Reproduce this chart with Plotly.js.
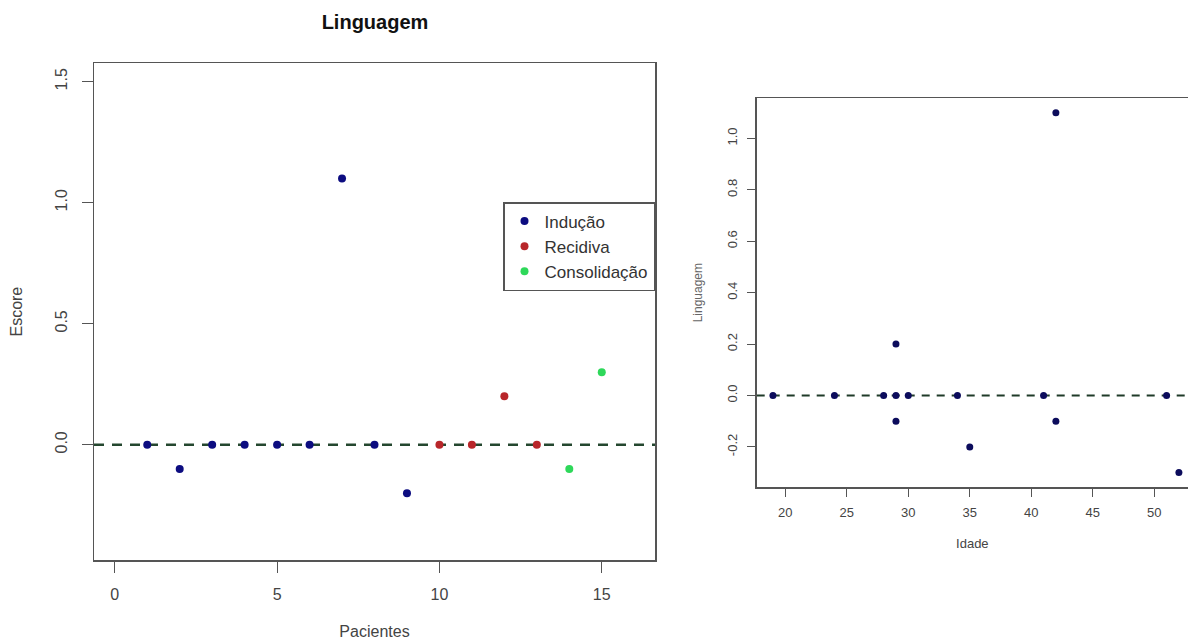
<!DOCTYPE html>
<html>
<head>
<meta charset="utf-8">
<script src="https://cdn.plot.ly/plotly-3.0.1.min.js"></script>
<style>html,body{margin:0;padding:0;background:#fff;}#chart{width:1188px;height:644px;}</style>
</head>
<body>
<div id="chart"></div>
<script>
// ---- Left panel: Escore por paciente ----
const pacientesInducao = [1, 2, 3, 4, 5, 6, 7, 8, 9];
const escoreInducao = [0, -0.1, 0, 0, 0, 0, 1.1, 0, -0.2];
const pacientesRecidiva = [10, 11, 12, 13];
const escoreRecidiva = [0, 0, 0.2, 0];
const pacientesConsolidacao = [14, 15];
const escoreConsolidacao = [-0.1, 0.3];
const xTicksLeft = [0, 5, 10, 15];
const yTicksLeft = [0, 0.5, 1.0, 1.5];
const yTickTextLeft = ["0.0", "0.5", "1.0", "1.5"];

// ---- Right panel: Linguagem x Idade ----
const idade = [19, 24, 28, 29, 29, 29, 30, 34, 35, 41, 42, 42, 51, 52];
const linguagem = [0, 0, 0, 0.2, 0, -0.1, 0, 0, -0.2, 0, 1.1, -0.1, 0, -0.3];
const xTicksRight = [20, 25, 30, 35, 40, 45, 50];
const yTicksRight = [-0.2, 0, 0.2, 0.4, 0.6, 0.8, 1.0];
const yTickTextRight = ["-0.2", "0.0", "0.2", "0.4", "0.6", "0.8", "1.0"];

const FONT = "Liberation Sans, Arial, sans-serif";
const AX = "#555555";
const TXT = "#444444";

const traces = [
  {x: pacientesInducao, y: escoreInducao, mode: "markers", type: "scatter", name: "Indução",
   marker: {color: "#0c0c80", size: 8}, xaxis: "x", yaxis: "y", cliponaxis: false},
  {x: pacientesRecidiva, y: escoreRecidiva, mode: "markers", type: "scatter", name: "Recidiva",
   marker: {color: "#b8262a", size: 8}, xaxis: "x", yaxis: "y", cliponaxis: false},
  {x: pacientesConsolidacao, y: escoreConsolidacao, mode: "markers", type: "scatter", name: "Consolidação",
   marker: {color: "#2ed85a", size: 8}, xaxis: "x", yaxis: "y", cliponaxis: false},
  {x: idade, y: linguagem, mode: "markers", type: "scatter", name: "Linguagem",
   marker: {color: "#0c0c5c", size: 7}, xaxis: "x2", yaxis: "y2", showlegend: false, cliponaxis: false}
];

const layout = {
  width: 1188, height: 644,
  margin: {l: 0, r: 0, t: 0, b: 0},
  paper_bgcolor: "#ffffff", plot_bgcolor: "#ffffff",
  font: {family: FONT, color: TXT, size: 16},
  title: {text: "<b>Linguagem</b>", x: 375 / 1188, xanchor: "center", y: 1 - 22 / 644, yanchor: "middle",
          font: {family: FONT, size: 20, color: "#111111"}},
  showlegend: true,
  legend: {x: 503 / 1188, y: 1 - 202 / 644, xanchor: "left", yanchor: "top",
           bgcolor: "#ffffff", bordercolor: AX, borderwidth: 1.5,
           font: {family: FONT, size: 17, color: "#333333"}, tracegroupgap: 0},
  xaxis: {domain: [94 / 1188, 655 / 1188], range: [-0.64, 16.64], anchor: "y",
          tickvals: xTicksLeft, ticks: "outside", ticklen: 11, tickwidth: 1.2, tickcolor: AX,
          showline: true, mirror: true, linecolor: AX, linewidth: 1.5,
          showgrid: false, zeroline: false, ticklabelstandoff: 8,
          tickfont: {family: FONT, size: 16, color: TXT},
          title: {text: "Pacientes", standoff: 24, font: {family: FONT, size: 16, color: TXT}}},
  yaxis: {domain: [1 - 560 / 644, 1 - 63.3 / 644], range: [-0.476, 1.576], anchor: "x",
          tickvals: yTicksLeft, ticktext: yTickTextLeft, tickangle: -90,
          ticks: "outside", ticklen: 11, tickwidth: 1.2, tickcolor: AX,
          showline: true, mirror: true, linecolor: AX, linewidth: 1.5,
          showgrid: false, zeroline: false, ticklabelstandoff: 8,
          tickfont: {family: FONT, size: 16, color: TXT},
          title: {text: "Escore", standoff: 26, font: {family: FONT, size: 16, color: TXT}}},
  xaxis2: {domain: [756.7 / 1188, 1], range: [17.68, 52.74], anchor: "y2",
           tickvals: xTicksRight, ticks: "outside", ticklen: 8, tickwidth: 1, tickcolor: AX,
           showline: true, mirror: true, linecolor: AX, linewidth: 1.5,
           showgrid: false, zeroline: false, ticklabelstandoff: 5,
           tickfont: {family: FONT, size: 13, color: TXT},
           title: {text: "Idade", standoff: 20, font: {family: FONT, size: 13, color: TXT}}},
  yaxis2: {domain: [1 - 487 / 644, 1 - 98.3 / 644], range: [-0.356, 1.156], anchor: "x2",
           tickvals: yTicksRight, ticktext: yTickTextRight, tickangle: -90,
           ticks: "outside", ticklen: 8, tickwidth: 1, tickcolor: AX,
           showline: true, mirror: false, linecolor: AX, linewidth: 1.5,
           showgrid: false, zeroline: false, ticklabelstandoff: 5,
           tickfont: {family: FONT, size: 13, color: TXT},
           title: {text: "Linguagem", standoff: 20, font: {family: FONT, size: 12, color: "#666666"}}},
  shapes: [
    {type: "line", xref: "x domain", yref: "y", x0: 0, x1: 1, y0: 0, y1: 0, layer: "below",
     line: {color: "#24472f", width: 2.5, dash: "10px,8px"}},
    {type: "line", xref: "x2 domain", yref: "y2", x0: 0, x1: 1, y0: 0, y1: 0, layer: "below",
     line: {color: "#1f3a28", width: 2, dash: "8px,7px"}}
  ]
};

Plotly.newPlot("chart", traces, layout, {displayModeBar: false, staticPlot: true});
</script>
</body>
</html>
